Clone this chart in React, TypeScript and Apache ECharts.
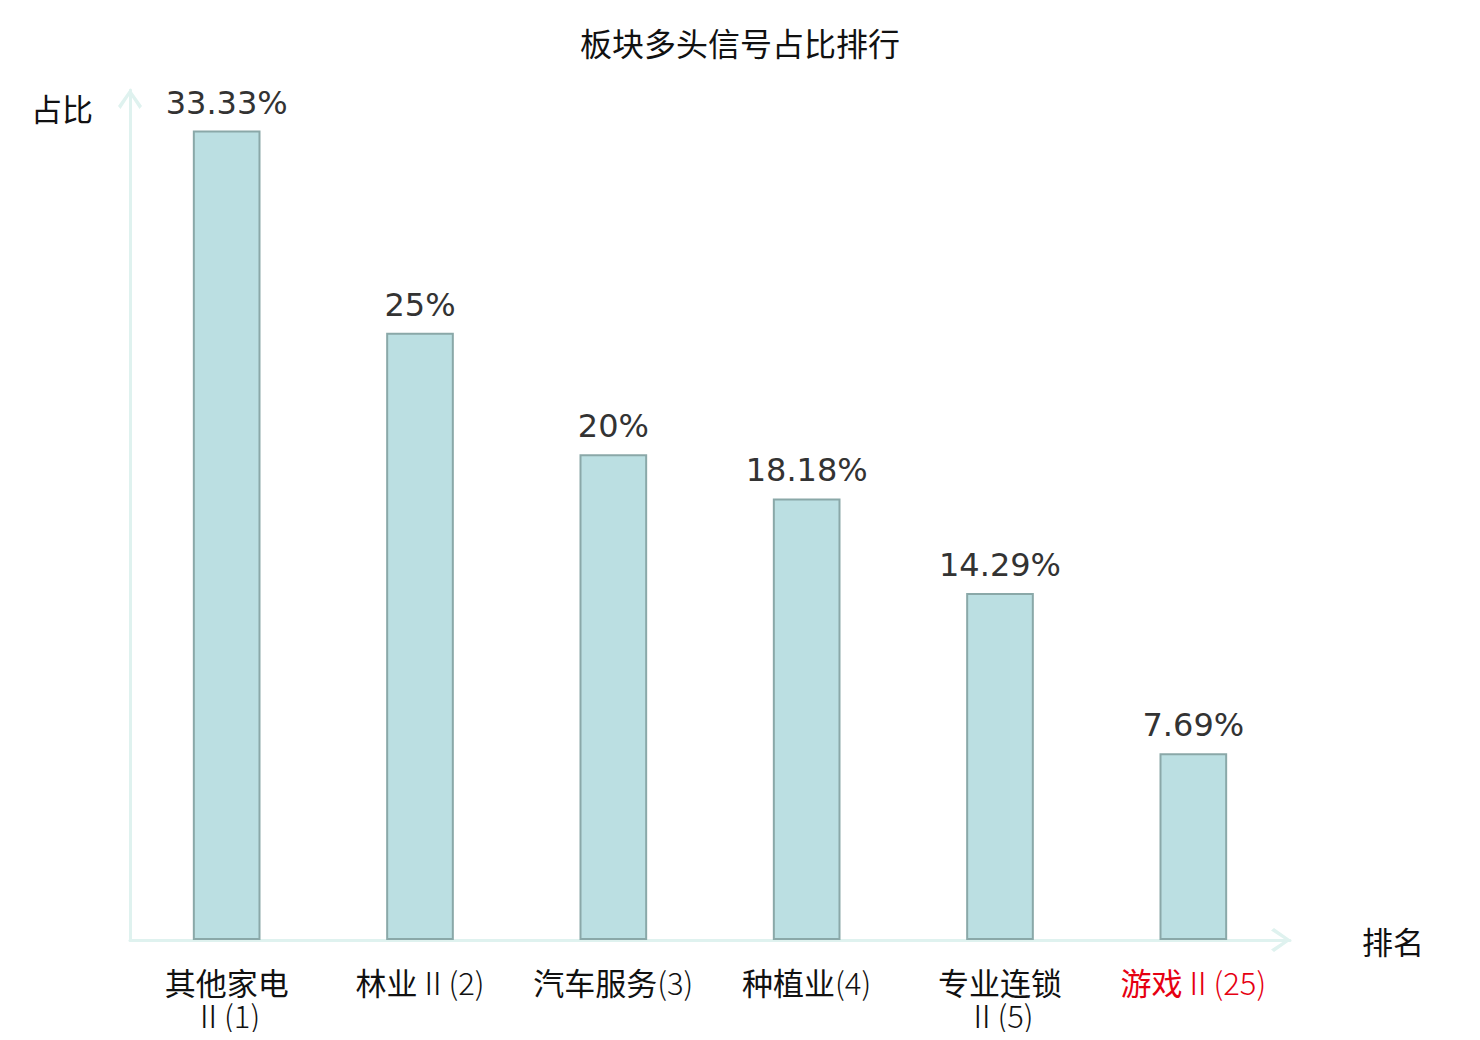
import React, { useEffect, useRef } from "react";
import * as echarts from "echarts";

const categories = ["其他家电Ⅱ(1)", "林业Ⅱ(2)", "汽车服务(3)", "种植业(4)", "专业连锁Ⅱ(5)", "游戏Ⅱ(25)"];
const values = [33.33, 25, 20, 18.18, 14.29, 7.69];
const valueLabels = ["33.33%", "25%", "20%", "18.18%", "14.29%", "7.69%"];
const highlighted = ["游戏Ⅱ(25)"];

const chevron = "path://M0,17 L12,0 L24,17 L21.5,20 L12,5.5 L2.5,20 Z";

const isCJK = (ch: string) => /[\u4e00-\u9fff]/.test(ch);

function richLabel(v: string): string {
  const red = highlighted.includes(v);
  const chars = Array.from(v);
  const est = chars.reduce((s, c) => s + (isCJK(c) ? 31 : 17), 0);
  let out = "";
  let cur = "";
  let curType = "";
  let broke = false;
  const flush = () => {
    if (cur) out += `{${curType}${red ? "r" : ""}|${cur}}`;
    cur = "";
  };
  for (const c of chars) {
    const t = isCJK(c) ? "c" : "l";
    if (t !== curType) {
      flush();
      if (t === "l" && est > 180 && !broke) {
        out += "\n";
        broke = true;
      }
      curType = t;
    }
    cur += c;
  }
  flush();
  return out;
}

export default function App() {
  const ref = useRef<HTMLDivElement>(null);
  useEffect(() => {
    if (!ref.current) return;
    const chart = echarts.init(ref.current, null, { renderer: "svg" });
    const axisColor = "#dff2ef";
    const cjk = "Noto Sans CJK SC, sans-serif";
    const base = { fontSize: 31, lineHeight: 33, fontFamily: cjk };
    chart.setOption({
      animation: false,
      backgroundColor: "#ffffff",
      title: {
        text: "板块多头信号占比排行",
        left: "center",
        top: 13,
        textStyle: { fontSize: 32, fontWeight: "normal", color: "#111", fontFamily: cjk },
      },
      grid: { left: 122, right: 182, top: 82, bottom: 92 },
      xAxis: {
        type: "category",
        data: categories,
        name: "排名",
        nameLocation: "end",
        nameGap: 72,
        nameTextStyle: { fontSize: 31, color: "#111", align: "left", verticalAlign: "middle", fontFamily: cjk },
        axisLine: {
          lineStyle: { color: axisColor, width: 3 },
          symbol: ["none", chevron],
          symbolSize: [24, 20],
          symbolOffset: [0, -9],
        },
        axisTick: { show: false },
        axisLabel: {
          interval: 0,
          margin: 25,
          ...base,
          color: "#111",
          formatter: (v: string) => richLabel(v),
          rich: {
            c: { ...base, color: "#111" },
            l: { ...base, color: "#111", fontWeight: 300 },
            cr: { ...base, color: "#e60012" },
            lr: { ...base, color: "#e60012", fontWeight: 300 },
          },
        },
      },
      yAxis: {
        type: "value",
        min: 0,
        max: 35,
        name: "占比",
        nameLocation: "end",
        nameGap: -17,
        nameTextStyle: { fontSize: 31, color: "#111", align: "right", verticalAlign: "middle", padding: [0, 37, 0, 0], fontFamily: cjk },
        axisLine: {
          show: true,
          lineStyle: { color: axisColor, width: 3 },
          symbol: ["none", chevron],
          symbolSize: [24, 20],
          symbolOffset: [0, -9],
        },
        axisTick: { show: false },
        axisLabel: { show: false },
        splitLine: { show: false },
      },
      series: [
        {
          type: "bar",
          data: values,
          barWidth: "35%",
          itemStyle: { color: "#bbdfe2", borderColor: "#8aa8a8", borderWidth: 2 },
          label: {
            show: true,
            position: "top",
            distance: 12,
            fontSize: 32,
            color: "#333",
            fontFamily: "DejaVu Sans, sans-serif",
            formatter: (p: any) => valueLabels[p.dataIndex],
          },
        },
      ],
    });
    return () => chart.dispose();
  }, []);
  return <div ref={ref} style={{ width: 1464, height: 1024 }} />;
}
